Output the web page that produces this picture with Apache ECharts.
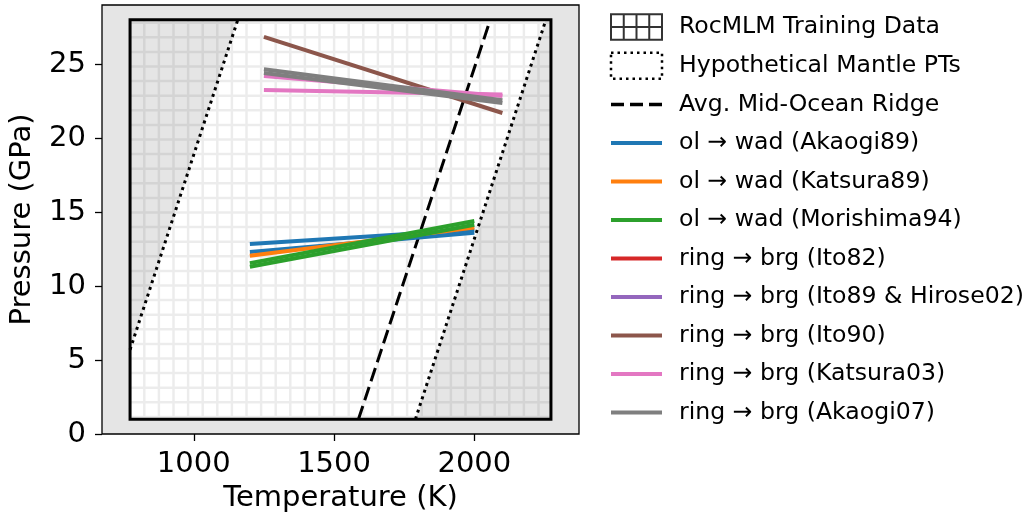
<!DOCTYPE html>
<html>
<head>
<meta charset="utf-8">
<script src="https://cdn.jsdelivr.net/npm/echarts@6/dist/echarts.min.js"></script>
<style>
  html, body { margin: 0; padding: 0; background: #fff; }
  #chart { width: 1028px; height: 519px; }
</style>
</head>
<body>
<div id="chart"></div>
<script>
// axis ticks
const tempTicks = [1000, 1500, 2000];
const presTicks = [0, 5, 10, 15, 20, 25];

// RocMLM training data box (T in K, P in GPa)
const trainT = [773, 2273];
const trainP = [1, 28];

// hypothetical mantle PT bounds, avg. mid-ocean ridge
const mantleLeft = [[773, 5.7], [1157, 28]];
const mantleRight = [[1790, 1], [2255, 28]];
const ridge = [[1587, 1], [2055, 27.9]];

// phase boundaries
const akaogi89 = [[[1200, 12.85], [2000, 13.8]], [[1200, 12.3], [2000, 13.6]]];
const katsura89 = [[[1200, 12.05], [2000, 13.95]]];
const morishima94 = [[[1200, 11.55], [2000, 14.4]], [[1200, 11.3], [2000, 14.15]]];
const ito82 = [];
const ito89 = [];
const ito90 = [[[1250, 26.85], [2100, 21.7]]];
const katsura03 = [[[1250, 24.2], [2100, 22.85]], [[1250, 23.25], [2100, 22.95]]];
const akaogi07 = [[[1250, 24.66], [2100, 22.56]], [[1250, 24.4], [2100, 22.38]]];

const FONT = 'DejaVu Sans';

// hatch ('+') fill like matplotlib
function makeHatch() {
  const size = 146, step = 14.6;
  const c = document.createElement('canvas');
  c.width = size; c.height = size;
  const ctx = c.getContext('2d');
  ctx.strokeStyle = 'rgba(0,0,0,0.075)';
  ctx.lineWidth = 2.5;
  ctx.beginPath();
  for (let i = 0; i < 10; i++) {
    const v = 12.9 + i * step;
    ctx.moveTo(v, 0); ctx.lineTo(v, size);
    const h = 8.1 + i * step;
    ctx.moveTo(0, h); ctx.lineTo(size, h);
  }
  ctx.stroke();
  return c;
}
const hatch = { image: makeHatch(), repeat: 'repeat' };

const phaseSets = [
  ['ol → wad (Akaogi89)', '#1f77b4', akaogi89],
  ['ol → wad (Katsura89)', '#ff7f0e', katsura89],
  ['ol → wad (Morishima94)', '#2ca02c', morishima94],
  ['ring → brg (Ito82)', '#d62728', ito82],
  ['ring → brg (Ito89 & Hirose02)', '#9467bd', ito89],
  ['ring → brg (Ito90)', '#8c564b', ito90],
  ['ring → brg (Katsura03)', '#e377c2', katsura03],
  ['ring → brg (Akaogi07)', '#7f7f7f', akaogi07]
];

const series = [];

series.push({
  name: 'RocMLM Training Data',
  type: 'custom',
  silent: true,
  data: [[trainT[0], trainP[0]]],
  renderItem: function (params, api) {
    const bl = api.coord([trainT[0], trainP[0]]);
    const tr = api.coord([trainT[1], trainP[1]]);
    const rect = { x: bl[0], y: tr[1], width: tr[0] - bl[0], height: bl[1] - tr[1] };
    const leftPts = [[trainT[0], trainP[1]], mantleLeft[1], mantleLeft[0]].map(p => api.coord(p));
    const rightPts = [mantleRight[0], [trainT[1], trainP[0]], [trainT[1], trainP[1]], mantleRight[1]].map(p => api.coord(p));
    return {
      type: 'group',
      children: [
        { type: 'rect', shape: rect, style: { fill: '#ffffff' } },
        { type: 'polygon', shape: { points: leftPts }, style: { fill: '#e5e5e5' } },
        { type: 'polygon', shape: { points: rightPts }, style: { fill: '#e5e5e5' } },
        { type: 'rect', shape: rect, style: { fill: hatch } },
        { type: 'rect', shape: rect, style: { fill: 'none', stroke: '#000', lineWidth: 3 } }
      ]
    };
  }
});

[mantleLeft, mantleRight].forEach(function (d) {
  series.push({
    name: 'Hypothetical Mantle PTs',
    type: 'line',
    data: d,
    symbol: 'none',
    silent: true,
    lineStyle: { color: '#000', width: 3, type: [3, 4], cap: 'butt' }
  });
});

series.push({
  name: 'Avg. Mid-Ocean Ridge',
  type: 'line',
  data: ridge,
  symbol: 'none',
  silent: true,
  color: '#000',
  lineStyle: { color: '#000', width: 3, type: [14, 6], cap: 'butt' }
});

phaseSets.forEach(function (s) {
  const lines = s[2].length ? s[2] : [[]];
  lines.forEach(function (d) {
    series.push({
      name: s[0],
      type: 'line',
      data: d,
      symbol: 'none',
      silent: true,
      color: s[1],
      lineStyle: { color: s[1], width: 4, cap: 'butt' }
    });
  });
});

const legendData = [
  { name: 'RocMLM Training Data', icon: 'path://M0,0H48V24H0Z M12,0V24 M24,0V24 M36,0V24 M0,12H48',
    itemStyle: { color: '#fff', borderColor: '#333', borderWidth: 2, opacity: 1 } },
  { name: 'Hypothetical Mantle PTs', icon: 'rect',
    itemStyle: { color: '#fff', borderColor: '#000', borderWidth: 2.5, borderType: [2.5, 4], opacity: 1 } },
  { name: 'Avg. Mid-Ocean Ridge', itemStyle: { opacity: 0 }, lineStyle: { width: 3.5, type: [13, 6] } }
].concat(phaseSets.map(s => ({ name: s[0], itemStyle: { opacity: 0 }, lineStyle: { width: 4 } })));

const plainNum = v => String(v);

const chart = echarts.init(document.getElementById('chart'));
chart.setOption({
  animation: false,
  textStyle: { fontFamily: FONT },
  grid: {
    left: 102, top: 5, width: 477, height: 429,
    show: true, backgroundColor: '#e5e5e5', borderColor: '#000', borderWidth: 1.3
  },
  legend: {
    orient: 'vertical',
    left: 609,
    top: 13,
    padding: 0,
    itemWidth: 51,
    itemHeight: 26,
    itemGap: 10.5,
    data: legendData,
    selectedMode: false,
    textStyle: { fontFamily: FONT, fontSize: 23.6, color: '#000', lineHeight: 28, padding: [0, 0, 0, 12] }
  },
  xAxis: {
    type: 'value',
    min: 673,
    max: 2373,
    name: 'Temperature (K)',
    nameLocation: 'middle',
    nameGap: 48,
    nameTextStyle: { fontFamily: FONT, fontSize: 29, color: '#000' },
    axisLine: { show: false },
    splitLine: { show: false },
    axisTick: { show: true, length: 7, customValues: tempTicks, lineStyle: { color: '#000', width: 1.3 } },
    axisLabel: { customValues: tempTicks, formatter: plainNum, fontFamily: FONT, fontSize: 29, color: '#000', margin: 16 }
  },
  yAxis: {
    type: 'value',
    min: 0,
    max: 29,
    name: 'Pressure (GPa)',
    nameLocation: 'middle',
    nameGap: 65,
    nameTextStyle: { fontFamily: FONT, fontSize: 29, color: '#000' },
    axisLine: { show: false },
    splitLine: { show: false },
    axisTick: { show: true, length: 7, customValues: presTicks, lineStyle: { color: '#000', width: 1.3 } },
    axisLabel: { customValues: presTicks, formatter: plainNum, fontFamily: FONT, fontSize: 29, color: '#000', margin: 16 }
  },
  series: series
});
</script>
</body>
</html>
